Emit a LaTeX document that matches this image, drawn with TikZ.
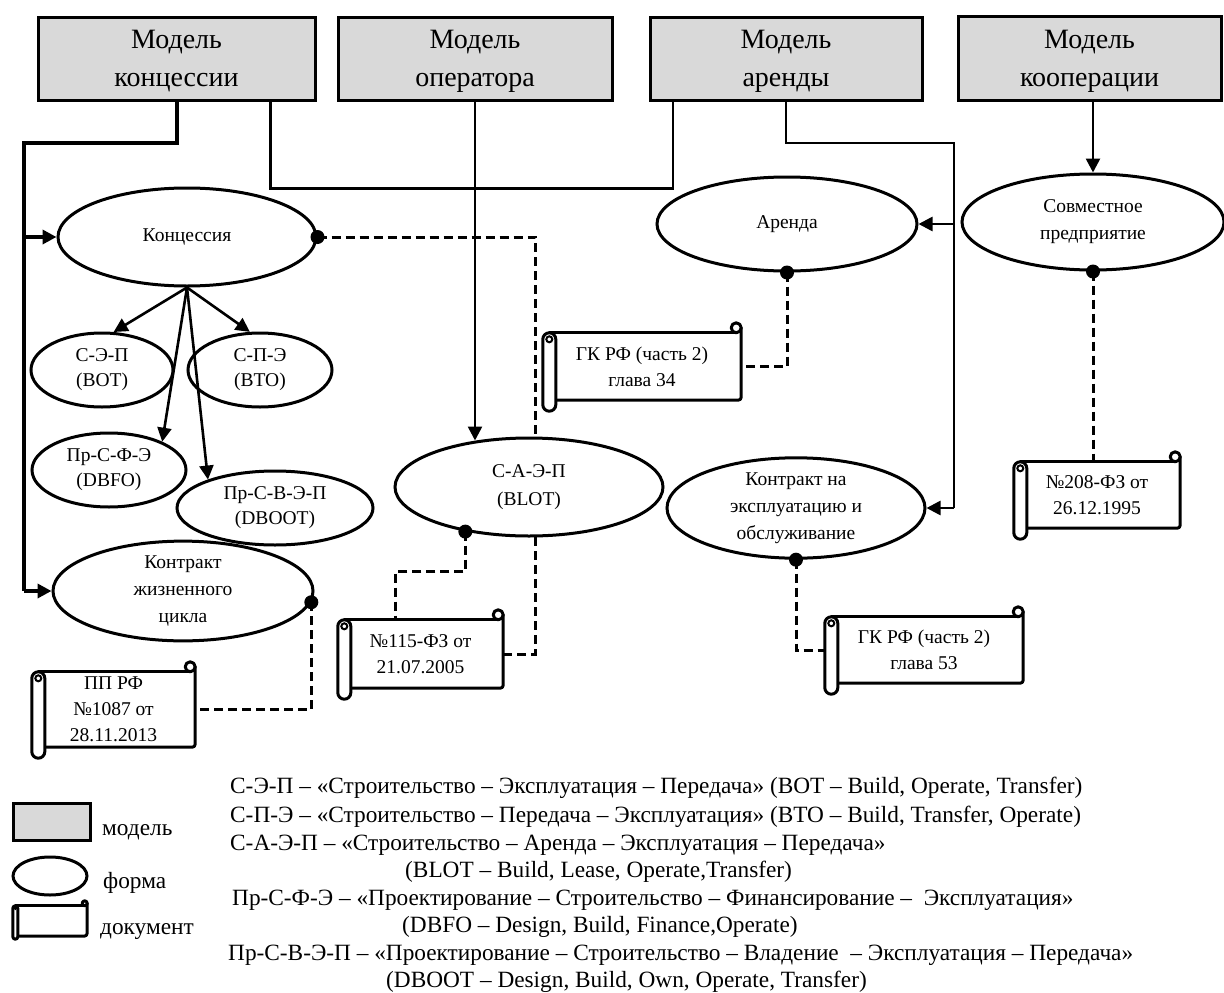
\documentclass[tikz,border=0pt]{standalone}
\usepackage{fontspec}
\setmainfont{Liberation Serif}
\usetikzlibrary{arrows.meta,shapes.geometric,calc}
\newcommand\fs[2]{\fontsize{#1}{#2}\selectfont}
\definecolor{modelgray}{HTML}{D9D9D9}
\tikzset{
  modelbox/.style={draw, line width=3pt, fill=modelgray, inner sep=0pt},
  modeltext/.style={inner sep=0pt, align=center, font=\fs{28}{38}},
  form/.style={ellipse, draw, line width=3pt, fill=white, inner sep=0pt, align=center, font=\fs{19.5}{25}},
  docbox/.style={rectangle, inner sep=0pt, align=center, font=\fs{19.5}{26}},
  docline/.style={line width=3pt, line cap=round, line join=round},
  con/.style={line width=2.6pt},
  bus/.style={line width=4pt},
  tip/.style={-{Triangle[length=14pt,width=14pt]}},
  dcon/.style={line width=3pt, dash pattern=on 9pt off 5pt},
  legtext/.style={font=\fs{23.3}{28}, inner sep=0pt, anchor=west},
}
% scroll outline round a document node:
% #1 node, #2 roll width, #3 roll overhang below, #4 curl radius, #5 roll corner, #6 roll curl radius
\newcommand\docscroll[6]{%
  \draw[docline,rounded corners=3pt] ($(#1.south west)+(#2,0)$) -- (#1.south east) -- ($(#1.north east)+(0,-#4)$);
  \draw[docline] ($(#1.north west)+(#2/2,0)$) -- ($(#1.north east)+(-#4,0)$);
  \draw[docline,fill=white] ($(#1.north east)+(-#4,-#4)$) circle (#4pt);
  \draw[docline,fill=white,rounded corners=#5pt] (#1.north west) rectangle ($(#1.south west)+(#2,#3)$);
  \draw[line width=2pt] ($(#1.north west)+(#2/2,#2/2)$) circle (#6pt);
}
\begin{document}
\begin{tikzpicture}[x=1pt,y=-1pt]
\useasboundingbox (0,0) rectangle (1224,993);

% models
\node[modelbox, minimum width=277pt, minimum height=83pt] (m1) at (176.5,58.5) {};
\node[modelbox, minimum width=274pt, minimum height=83pt] (m2) at (475,58.5) {};
\node[modelbox, minimum width=272pt, minimum height=83pt] (m3) at (786,58.5) {};
\node[modelbox, minimum width=263pt, minimum height=84pt] (m4) at (1089.5,58) {};
\node[modeltext] (m1t) at ($(m1)+(0,3)$) {Модель\\концессии};
\node[modeltext] (m2t) at ($(m2)+(0,3)$) {Модель\\оператора};
\node[modeltext] (m3t) at ($(m3)+(0,3)$) {Модель\\аренды};
\node[modeltext] (m4t) at ($(m4)+(0,3)$) {Модель\\кооперации};

% forms
\node[form, minimum width=258pt, minimum height=98pt] (konc) at (187,237) {Концессия};
\node[form, minimum width=142pt, minimum height=74pt] (bot) at (102,370) {С-Э-П\\(BOT)};
\node[form, minimum width=144pt, minimum height=74pt] (bto) at (260,370) {С-П-Э\\(BTO)};
\node[form, minimum width=154pt, minimum height=74pt] (dbfo) at (109,470) {Пр-С-Ф-Э\\(DBFO)};
\node[form, minimum width=196pt, minimum height=74pt] (dboot) at (275,508) {Пр-С-В-Э-П\\(DBOOT)};
\node[form, minimum width=260pt, minimum height=94pt, font=\fs{19.5}{27}] (kzc) at (183,591) {Контракт\\жизненного\\цикла};
\node[form, minimum width=268pt, minimum height=98pt, font=\fs{19.5}{28}] (blot) at (529,487) {С-А-Э-П\\(BLOT)};
\node[form, minimum width=260pt, minimum height=94pt] (arenda) at (787,224) {Аренда};
\node[form, minimum width=262pt, minimum height=96pt, font=\fs{19.5}{27}] (sov) at (1093,222) {Совместное\\предприятие};
\node[form, minimum width=258pt, minimum height=98pt, font=\fs{19.5}{27}] (ekspl) at (796,508) {Контракт на\\эксплуатацию и\\обслуживание};

% documents
\node[docbox, minimum width=165pt, minimum height=68pt] (d115) at (420.5,654) {№115-ФЗ от\\21.07.2005};
\node[docbox, minimum width=198pt, minimum height=67pt] (d34) at (642,366.5) {ГК РФ (часть 2)\\глава 34};
\node[docbox, minimum width=198pt, minimum height=66pt] (d53) at (924,650) {ГК РФ (часть 2)\\глава 53};
\node[docbox, minimum width=166pt, minimum height=66pt] (d208) at (1097,495) {№208-ФЗ от\\26.12.1995};
\node[docbox, minimum width=163pt, minimum height=75pt] (dpp) at (113.5,709.5) {ПП РФ\\№1087 от\\28.11.2013};
\foreach \d in {d115,d34,d53,d208,dpp}{\docscroll{\d}{13}{11}{5}{6.5}{3}}

% model links
\coordinate (lbus) at (24,143);
\coordinate (rbus) at (954,143);
\draw[bus] (m1.south) |- (lbus) -- (lbus |- kzc.west);
\draw[bus,tip] (lbus |- konc.west) -- (konc.west);
\draw[bus,tip] (lbus |- kzc.west) -- (kzc.west);
\draw[con] ($(m1.south)+(94,0)$) -- ++(0,87) -| ($(m3.south)+(-113,0)$);
\draw[con,tip,shorten >=-4pt] (m2.south) -- (m2.south |- blot.north);
\draw[con] (m3.south) |- (rbus) -- (rbus |- ekspl.east);
\draw[con,tip] (rbus |- arenda.east) -- (arenda.east);
\draw[con,tip] (rbus |- ekspl.east) -- (ekspl.east);
\draw[con,tip] ($(m4.south)+(3.5,0)$) -- (sov.north);

% concession variants
\draw[con,tip] (konc.south) -- (bot.73);
\draw[con,tip] (konc.south) -- (bto.105);
\draw[con,tip] (konc.south) -- (dbfo.28);
\draw[con,tip] (konc.south) -- (dboot.157);

% legal basis links
\draw[dcon] (konc.east) -| (blot.83);
\draw[dcon] (blot.215) -- ++(0,40) -| ($(d115.north)+(-25,0)$);
\draw[dcon] (blot.-83) |- (d115.east);
\draw[dcon] (arenda.south) |- (d34.east);
\draw[dcon] (sov.south) -- (sov.south |- d208.north);
\draw[dcon] (ekspl.south) |- (d53.west);
\draw[dcon] (kzc.-5) |- (dpp.east);
\foreach \p in {konc.east, blot.215, arenda.south, sov.south, ekspl.south, kzc.-5}
  \fill (\p) circle (7pt);

% legend
\node[modelbox, minimum width=77pt, minimum height=37pt] (lm) at (51.5,821.5) {};
\node[legtext] (lmt) at (102,832) {модель};
\node[form, minimum width=74pt, minimum height=38pt] (lf) at (50,876) {};
\node[legtext] (lft) at (103,883) {форма};
\node[docbox, minimum width=74pt, minimum height=30pt] (ld) at (50,921) {};
\docscroll{ld}{5}{3}{2.5}{2.5}{0.5}
\node[legtext] (ldt) at (100,932) {документ};

% abbreviations
\node[legtext] (a1) at (230,788) {С-Э-П – «Строительство – Эксплуатация – Передача» (BOT – Build, Operate, Transfer)};
\node[legtext] (a2) at (230,817) {С-П-Э – «Строительство – Передача – Эксплуатация» (BTO – Build, Transfer, Operate)};
\node[legtext] (a3) at (230,845) {С-А-Э-П – «Строительство – Аренда – Эксплуатация – Передача»};
\node[legtext] (a4) at (405,872) {(BLOT – Build, Lease, Operate,Transfer)};
\node[legtext] (a5) at (232,900) {Пр-С-Ф-Э – «Проектирование – Строительство – Финансирование – \ Эксплуатация»};
\node[legtext] (a6) at (402,927) {(DBFO – Design, Build, Finance,Operate)};
\node[legtext] (a7) at (228,955) {Пр-С-В-Э-П – «Проектирование – Строительство – Владение \ – Эксплуатация – Передача»};
\node[legtext] (a8) at (386,982) {(DBOOT – Design, Build, Own, Operate, Transfer)};
\end{tikzpicture}
\end{document}
